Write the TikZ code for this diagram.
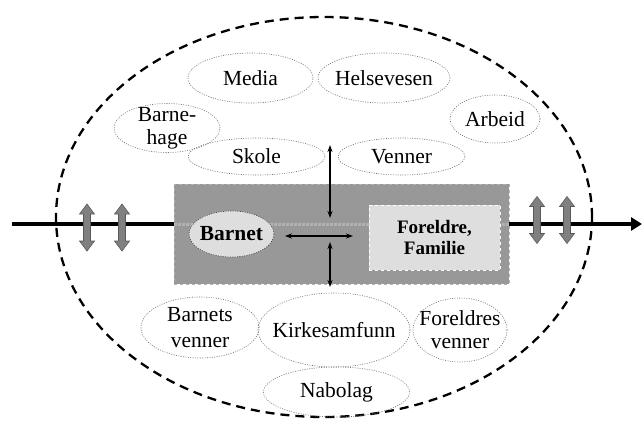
\documentclass[tikz,border=0pt]{standalone}
\usepackage{fontspec}
\setmainfont{Liberation Serif}
\usetikzlibrary{shapes.geometric,arrows.meta}
\definecolor{rectgray}{RGB}{152,152,152}
\definecolor{bandgray}{RGB}{178,178,178}
\definecolor{lightfill}{RGB}{222,222,222}
\definecolor{arrgray}{RGB}{128,128,128}
\definecolor{ellline}{RGB}{110,110,110}
\begin{document}
\begin{tikzpicture}[x=1pt,y=-1pt,
  ell/.style={ellipse, draw=ellline, dash pattern=on 1pt off 1.4pt, line width=0.6pt, inner sep=0pt},
  txt/.style={align=center, inner sep=0pt, font=\fontsize{21.5}{25}\selectfont},
  bold/.style={align=center, inner sep=0pt, font=\fontsize{19}{21.5}\selectfont\bfseries},
  thinarrow/.style={{Stealth[length=7pt,width=5pt]}-{Stealth[length=7pt,width=5pt]}, line width=1.3pt},
  blockarr/.pic={\draw[fill=arrgray, draw=black!65, line width=0.6pt]
     (0,-23.5) -- (7.5,-13.5) -- (3.5,-13.5) -- (3.5,13.5) -- (7.5,13.5) -- (0,23.5)
     -- (-7.5,13.5) -- (-3.5,13.5) -- (-3.5,-13.5) -- (-7.5,-13.5) -- cycle;}
]
\useasboundingbox (0,0) rectangle (642,421);

% outer dashed ellipse
\node[ellipse, draw=black, line width=2.3pt, dash pattern=on 9pt off 6pt,
      minimum width=536, minimum height=400, inner sep=0pt] (outer) at (324,217) {};

% central grey rectangle
\node[draw=bandgray, dashed, line width=0.6pt, fill=rectgray,
      minimum width=335, minimum height=100, inner sep=0pt] (rect) at (341.5,234) {};

% main horizontal line
\coordinate (L) at (12,224);
\coordinate (R) at (642,224);
\draw[line width=4pt] (L) -- (rect.west |- L);
\draw[line width=4pt, -{Triangle[length=11pt,width=13pt]}] (rect.east |- L) -- (R);
\draw[bandgray, line width=3pt, densely dotted] (rect.west |- L) -- (rect.east |- L);

% grey block arrows
\pic at (87,227.5) {blockarr};
\pic at (122,227.5) {blockarr};
\pic at (537,220) {blockarr};
\pic at (567,220) {blockarr};

% Barnet and Foreldre
\node[ellipse, draw=black!70, dash pattern=on 1pt off 1.4pt, line width=0.7pt, fill=lightfill,
      minimum width=85, minimum height=46, inner sep=0pt,
      label={[bold, font=\fontsize{21.5}{24}\selectfont\bfseries]center:Barnet}] (barnet) at (231.5,234) {};
\node[draw=white, dashed, line width=0.7pt, fill=lightfill,
      minimum width=131, minimum height=65, inner sep=0pt,
      label={[bold]center:Foreldre,\\Familie}] (foreldre) at (434.5,237.5) {};

% central arrows
\coordinate (u1) at (330,145);
\coordinate (u2) at (330,218);
\coordinate (d1) at (330,242);
\coordinate (d2) at (330,287);
\coordinate (h1) at (285,236);
\coordinate (h2) at (353,236);
\draw[thinarrow] (u1) -- (u2);
\draw[thinarrow] (d1) -- (d2);
\draw[thinarrow] (h1) -- (h2);

% surrounding ellipses
\node[ell, minimum width=125, minimum height=50, label={[txt]center:Media}] (media) at (250.5,78) {};
\node[ell, minimum width=132, minimum height=50, label={[txt]center:Helsevesen}] (helse) at (384,78) {};
\node[ell, minimum width=106, minimum height=49, label={[txt, font=\fontsize{21.5}{23}\selectfont]center:Barne-\\hage}] (barnehage) at (167,128) {};
\node[ell, minimum width=90, minimum height=48, label={[txt]center:Arbeid}] (arbeid) at (495,119) {};
\node[ell, minimum width=137, minimum height=37, label={[txt]center:Skole}] (skole) at (256.5,156.5) {};
\node[ell, minimum width=127, minimum height=37, label={[txt]center:Venner}] (venner) at (401.5,156.5) {};
\node[ell, minimum width=118, minimum height=61, label={[txt, font=\fontsize{21.5}{26}\selectfont]center:Barnets\\venner}] (bvenner) at (200,327.5) {};
\node[ell, minimum width=152, minimum height=74, label={[txt]center:Kirkesamfunn}] (kirke) at (334,330) {};
\node[ell, minimum width=94, minimum height=64, label={[txt, font=\fontsize{21.5}{23}\selectfont]center:Foreldres\\venner}] (fvenner) at (460,330) {};
\node[ell, minimum width=146, minimum height=50, label={[txt]center:Nabolag}] (nabolag) at (336.5,392) {};
\end{tikzpicture}
\end{document}
